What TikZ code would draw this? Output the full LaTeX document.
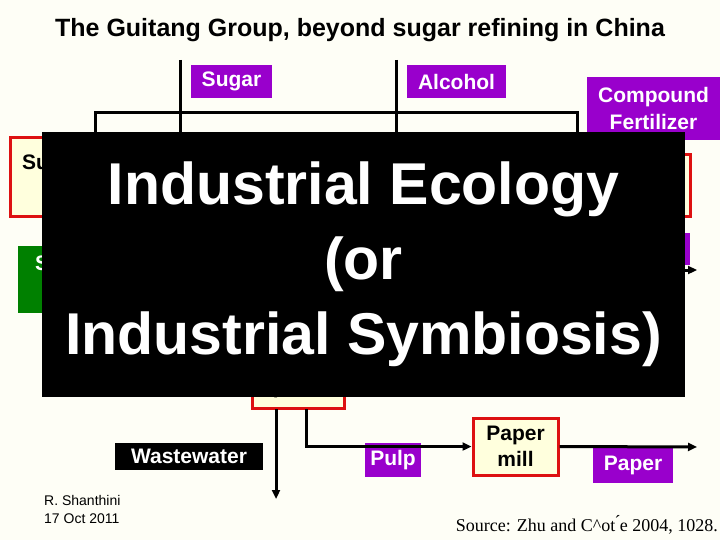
\documentclass[tikz,border=0pt]{standalone}
\usepackage{fontspec}
\setmainfont{Liberation Sans}
\newfontfamily\serifF{Liberation Serif}
\usetikzlibrary{arrows.meta}
\definecolor{bg}{HTML}{FEFEF6}
\definecolor{cream}{HTML}{FFFFDD}
\definecolor{purp}{HTML}{9900CC}
\definecolor{grn}{HTML}{008000}
\definecolor{redb}{HTML}{DD1111}
\begin{document}
\begin{tikzpicture}[x=1pt,y=-1pt,
  lbl/.style={fill=purp,text=white,inner sep=0pt,font=\bfseries\fontsize{21}{27}\selectfont,align=center},
  proc/.style={draw=redb,line width=3pt,fill=cream,inner sep=0pt,font=\bfseries\fontsize{21}{26}\selectfont,align=center},
  ln/.style={line width=3pt},
  arr/.style={ln,-{Triangle[length=9pt,width=8pt]}}]
\fill[bg] (0,0) rectangle (720,540);
\useasboundingbox (0,0) rectangle (720,540);
\node (title) at (360,30) {\bfseries\fontsize{25}{27}\selectfont The Guitang Group, beyond sugar refining in China};
% lines at top
\coordinate (t1) at (180,60); \coordinate (t2) at (396,60);
\coordinate (h1) at (95,113); \coordinate (h2) at (577,113);
\draw[ln] (t1) -- (180,140);
\draw[ln] (t2) -- (396,140);
\draw[ln] (95,140) -- (h1) -- (h2) -- (577,140);
\node[lbl,minimum width=81pt,minimum height=33pt] (sugar) at (231.5,81.5) {Sugar};
\node[lbl,minimum width=99pt,minimum height=33pt] (alc) at (456.5,81.5) {Alcohol};
\node[lbl,minimum width=133pt,minimum height=63pt] (fert) at (653.5,108.5) {Compound\\Fertilizer};
% partially hidden boxes
\node[proc,minimum width=40pt,minimum height=79pt] (su) at (30,177.5) {};
\node[anchor=north west,inner sep=0pt,font=\bfseries\fontsize{21}{22}\selectfont] (sut) at (22,155) {Su};
\node[fill=grn,minimum width=34pt,minimum height=67pt,inner sep=0pt] (gr) at (35,279.5) {};
\node[anchor=north west,inner sep=0pt,text=white,font=\bfseries\fontsize{21}{22}\selectfont] (grt) at (35,256) {S};
\node[proc,minimum width=20pt,minimum height=62pt] (r1) at (680,186) {};
\node[fill=purp,minimum width=20pt,minimum height=32pt,inner sep=0pt] (p1) at (680,249) {};
\coordinate (ra) at (697,270);
\draw[arr] (680,270) -- (ra);
\node[proc,minimum width=92pt,minimum height=40pt] (plant) at (298,388) {plant};
% big overlay
\node[fill=black,text=white,minimum width=643pt,minimum height=265pt,inner sep=0pt,align=center,
  font=\bfseries\fontsize{59}{75}\selectfont] (big) at (363.5,264.5) {Industrial Ecology\\(or\\Industrial Symbiosis)};
% bottom
\node[proc,minimum width=85pt,minimum height=57pt] (mill) at (515.5,446.5) {Paper\\mill};
\node[lbl,minimum width=56pt,minimum height=34pt] (pulp) at (393,460) {Pulp};
\node[lbl,minimum width=80pt,minimum height=35pt] (paper) at (633,465.5) {Paper};
\node[fill=black,text=white,inner sep=0pt,minimum width=148pt,minimum height=27pt,font=\bfseries\fontsize{21}{22}\selectfont] (ww) at (189,456.5) {Wastewater};
\coordinate (wend) at (276,499);
\coordinate (pend) at (697,447);
\draw[arr] (276,409) -- (wend);
\draw[arr] (306,409) |- (mill.west);
\draw[arr] (mill.east) -- (pend);
\node[anchor=north west,align=left,inner sep=0pt,font=\fontsize{14}{18}\selectfont] (auth) at (44,495) {R. Shanthini\\17 Oct 2011};
\node[anchor=east,inner sep=0pt,font=\serifF\fontsize{18}{19}\selectfont] (src) at (718,525) {Source: Zhu and C\^{}ot\'{}e 2004, 1028.};
\end{tikzpicture}
\end{document}
